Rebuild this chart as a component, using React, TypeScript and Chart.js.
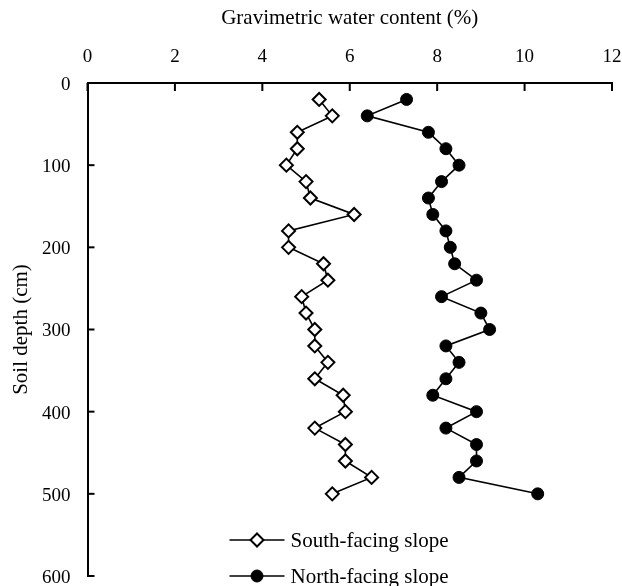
import React, { useEffect, useRef } from "react";
import { Chart, registerables } from "chart.js";

Chart.register(...registerables);

const depths = [20, 40, 60, 80, 100, 120, 140, 160, 180, 200, 220, 240, 260, 280, 300, 320, 340, 360, 380, 400, 420, 440, 460, 480, 500];
const southValues = [5.3, 5.6, 4.8, 4.8, 4.55, 5.0, 5.1, 6.1, 4.6, 4.6, 5.4, 5.5, 4.9, 5.0, 5.2, 5.2, 5.5, 5.2, 5.85, 5.9, 5.2, 5.9, 5.9, 6.5, 5.6];
const northValues = [7.3, 6.4, 7.8, 8.2, 8.5, 8.1, 7.8, 7.9, 8.2, 8.3, 8.4, 8.9, 8.1, 9.0, 9.2, 8.2, 8.5, 8.2, 7.9, 8.9, 8.2, 8.9, 8.9, 8.5, 10.3];
const seriesNames = ["South-facing slope", "North-facing slope"];
const xTitle = "Gravimetric water content (%)";
const yTitle = "Soil depth (cm)";

const FONT = "'Liberation Serif', 'Times New Roman', serif";

const inwardTicks = {
  id: "inwardTicks",
  afterDraw(chart: any) {
    const ctx = chart.ctx;
    const { left, top } = chart.chartArea;
    const xs = chart.scales.x;
    const ys = chart.scales.y;
    ctx.save();
    ctx.strokeStyle = "#000";
    ctx.lineWidth = 2;
    xs.ticks.forEach((t: any) => {
      const px = xs.getPixelForValue(t.value);
      ctx.beginPath();
      ctx.moveTo(px, top);
      ctx.lineTo(px, top + 8);
      ctx.stroke();
    });
    ys.ticks.forEach((t: any) => {
      const py = ys.getPixelForValue(t.value);
      ctx.beginPath();
      ctx.moveTo(left, py);
      ctx.lineTo(left + 7, py);
      ctx.stroke();
    });
    ctx.restore();
  },
};

const customLegend = {
  id: "customLegend",
  afterDraw(chart: any) {
    const ctx = chart.ctx;
    const { left, bottom } = chart.chartArea;
    ctx.save();
    chart.data.datasets.forEach((ds: any, i: number) => {
      const y = bottom - 36 + i * 36;
      const x0 = left + 142;
      const x1 = left + 197;
      const cx = (x0 + x1) / 2;
      ctx.strokeStyle = "#000";
      ctx.lineWidth = 1.6;
      ctx.beginPath();
      ctx.moveTo(x0, y);
      ctx.lineTo(x1, y);
      ctx.stroke();
      const r = ds.pointRadius;
      ctx.beginPath();
      if (ds.pointStyle === "rectRot") {
        ctx.moveTo(cx, y - r);
        ctx.lineTo(cx + r, y);
        ctx.lineTo(cx, y + r);
        ctx.lineTo(cx - r, y);
        ctx.closePath();
      } else {
        ctx.arc(cx, y, r, 0, Math.PI * 2);
      }
      ctx.fillStyle = ds.pointBackgroundColor;
      ctx.fill();
      ctx.lineWidth = ds.pointBorderWidth;
      ctx.strokeStyle = ds.pointBorderColor;
      ctx.stroke();
      ctx.fillStyle = "#000";
      ctx.font = `21px ${FONT}`;
      ctx.textAlign = "left";
      ctx.textBaseline = "middle";
      ctx.fillText(ds.label, left + 203, y + 1);
    });
    ctx.restore();
  },
};

export default function App() {
  const ref = useRef<HTMLCanvasElement | null>(null);
  useEffect(() => {
    if (!ref.current) return;
    const south = depths.map((d, i) => ({ x: southValues[i], y: d }));
    const north = depths.map((d, i) => ({ x: northValues[i], y: d }));
    const chart = new Chart(ref.current, {
      type: "scatter",
      data: {
        datasets: [
          {
            label: seriesNames[0],
            data: south,
            showLine: true,
            borderColor: "#000",
            borderWidth: 1.6,
            pointStyle: "rectRot",
            pointRadius: 6.5,
            pointBackgroundColor: "#fff",
            pointBorderColor: "#000",
            pointBorderWidth: 2,
            tension: 0,
            clip: false,
          },
          {
            label: seriesNames[1],
            data: north,
            showLine: true,
            borderColor: "#000",
            borderWidth: 1.6,
            pointStyle: "circle",
            pointRadius: 6,
            pointBackgroundColor: "#000",
            pointBorderColor: "#000",
            pointBorderWidth: 1,
            tension: 0,
            clip: false,
          },
        ] as any,
      },
      options: {
        animation: false,
        responsive: false,
        layout: { padding: { left: 0, top: 0, right: 10, bottom: 10 } },
        plugins: { legend: { display: false }, tooltip: { enabled: false } },
        scales: {
          x: {
            type: "linear",
            position: "top",
            min: 0,
            max: 12,
            afterFit: (s: any) => { s.height = 83; s.paddingLeft = 0; s.paddingRight = 0; },
            ticks: { stepSize: 2, color: "#000", font: { family: FONT, size: 19 }, padding: 15 },
            grid: { drawOnChartArea: false, drawTicks: false },
            border: { display: true, color: "#000", width: 2 },
            title: { display: true, text: xTitle, color: "#000", font: { family: FONT, size: 21 }, padding: { top: 6, bottom: 0 } },
          },
          y: {
            type: "linear",
            position: "left",
            reverse: true,
            min: 0,
            max: 600,
            afterFit: (s: any) => { s.width = 87.5; s.paddingTop = 0; s.paddingBottom = 0; },
            ticks: { stepSize: 100, color: "#000", font: { family: FONT, size: 19 }, padding: 17, labelOffset: 2 },
            grid: { drawOnChartArea: false, drawTicks: false },
            border: { display: true, color: "#000", width: 2 },
            title: { display: true, text: yTitle, color: "#000", font: { family: FONT, size: 21 }, padding: { top: 9, bottom: 0 } },
          },
        },
      } as any,
      plugins: [inwardTicks, customLegend],
    });
    return () => chart.destroy();
  }, []);
  return (
    <div style={{ position: "absolute", left: 0, top: 0, width: 622, height: 586, background: "#fff" }}>
      <canvas ref={ref} width={622} height={586} />
    </div>
  );
}
